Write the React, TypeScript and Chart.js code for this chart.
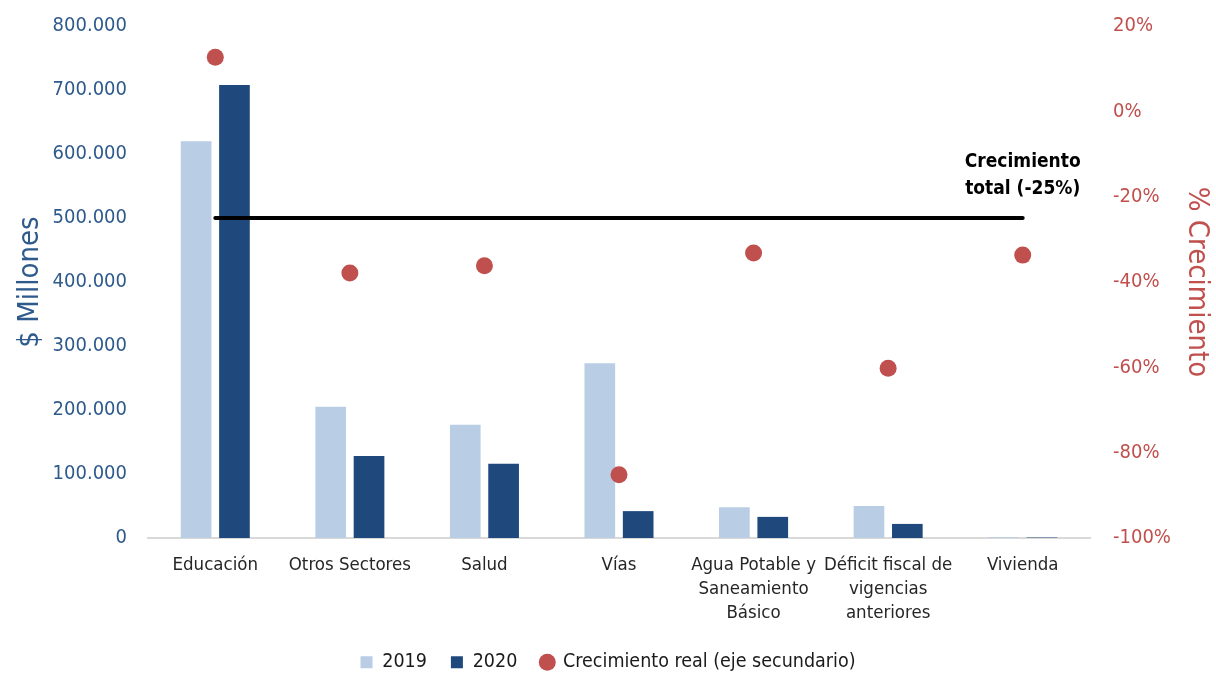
import React, { useEffect, useRef } from "react";
import { Chart, registerables } from "chart.js";

Chart.register(...registerables);

const categories: (string | string[])[] = [
  "Educación",
  "Otros Sectores",
  "Salud",
  "Vías",
  ["Agua Potable y", "Saneamiento", "Básico"],
  ["Déficit fiscal de", "vigencias", "anteriores"],
  "Vivienda",
];
const values2019 = [620000, 205000, 177000, 273000, 48000, 50000, 1200];
const values2020 = [708000, 128000, 116000, 42000, 33000, 22000, 700];
const growthReal = [12.7, -37.9, -36.2, -85.2, -33.2, -60.2, -33.7];
const totalGrowth = -25;
const totalLabel = ["Crecimiento", "total (-25%)"];

const FONT = '"Liberation Sans Narrow", "Arial Narrow", "DejaVu Sans Condensed", sans-serif';
const BLUE_TXT = "#2F5A8C";
const RED = "#C0504D";

const totalLabelPlugin = {
  id: "totalLabel",
  afterDatasetsDraw(chart: any) {
    const x = chart.scales.x.getPixelForValue(categories.length - 1);
    const y = chart.scales.y1.getPixelForValue(totalGrowth);
    const ctx = chart.ctx;
    ctx.save();
    ctx.font = `bold 19px ${FONT}`;
    ctx.fillStyle = "#000";
    ctx.textAlign = "center";
    ctx.textBaseline = "middle";
    ctx.fillText(totalLabel[0], x, y - 56);
    ctx.fillText(totalLabel[1], x, y - 29);
    ctx.restore();
  },
};

export default function App() {
  const ref = useRef<HTMLCanvasElement | null>(null);
  useEffect(() => {
    if (!ref.current) return;
    const chart = new Chart(ref.current, {
      type: "bar",
      data: {
        labels: categories as any,
        datasets: [
          {
            type: "line",
            label: "total",
            data: categories.map(() => totalGrowth),
            yAxisID: "y1",
            borderColor: "#000",
            borderWidth: 4,
            borderCapStyle: "round",
            pointRadius: 0,
            fill: false,
            order: 0,
          } as any,
          {
            type: "line",
            label: "Crecimiento real (eje secundario)",
            data: growthReal,
            yAxisID: "y1",
            showLine: false,
            pointStyle: "circle",
            pointRadius: 8.5,
            pointBackgroundColor: RED,
            pointBorderColor: RED,
            backgroundColor: RED,
            borderColor: RED,
            borderWidth: 0,
            order: -1,
          } as any,
          {
            label: "2019",
            data: values2019,
            backgroundColor: "#B9CDE5",
            borderWidth: 0,
            pointStyle: "rect",
            yAxisID: "y",
            order: 2,
            categoryPercentage: 0.57,
            barPercentage: 0.8,
          } as any,
          {
            label: "2020",
            data: values2020,
            backgroundColor: "#1F497D",
            borderWidth: 0,
            pointStyle: "rect",
            yAxisID: "y",
            order: 2,
            categoryPercentage: 0.57,
            barPercentage: 0.8,
          } as any,
        ],
      },
      options: {
        animation: false,
        responsive: false,
        maintainAspectRatio: false,
        layout: { padding: { top: 26, left: 0, right: 0, bottom: -8 } },
        plugins: {
          tooltip: { enabled: false },
          legend: {
            position: "bottom",
            labels: {
              usePointStyle: true,
              boxWidth: 12,
              boxHeight: 12,
              padding: 24,
              color: "#1a1a1a",
              font: { family: FONT, size: 19.5 },
              sort: (a: any, b: any) => {
                const ord: any = { "2019": 0, "2020": 1 };
                return (ord[a.text] ?? 2) - (ord[b.text] ?? 2);
              },
              filter: (item: any) => item.text !== "total",
            },
          },
        },
        scales: {
          x: {
            grid: { display: false, drawTicks: false },
            border: { display: true, color: "#D9D9D9", width: 2 },
            ticks: {
              color: "#262626",
              font: { family: FONT, size: 18.5, lineHeight: 1.32 },
              padding: 14.5,
              maxRotation: 0,
              autoSkip: false,
            },
            afterFit: (s: any) => {
              s.height = 90.5;
            },
          },
          y: {
            position: "left",
            min: 0,
            max: 800000,
            grid: { display: false, drawTicks: false },
            border: { display: false },
            ticks: {
              stepSize: 100000,
              color: BLUE_TXT,
              padding: 21,
              font: { family: FONT, size: 20 },
              callback: (v: any) =>
                Number(v) === 0 ? "0" : Number(v).toLocaleString("de-DE"),
            },
            title: {
              display: true,
              text: "$ Millones",
              color: BLUE_TXT,
              font: { family: FONT, size: 29 },
              padding: { top: 13, bottom: 0 },
            },
            afterFit: (s: any) => {
              s.width = 148;
              s.paddingTop = 0;
              s.paddingBottom = 0;
            },
          },
          y1: {
            position: "right",
            min: -100,
            max: 20,
            grid: { display: false, drawTicks: false },
            border: { display: false },
            ticks: {
              stepSize: 20,
              color: RED,
              padding: 23,
              font: { family: FONT, size: 20 },
              callback: (v: any) => `${v}%`,
            },
            title: {
              display: true,
              text: "% Crecimiento",
              color: RED,
              font: { family: FONT, size: 29 },
              padding: { top: 2, bottom: 0 },
            },
            afterFit: (s: any) => {
              s.width = 126;
              s.paddingTop = 0;
              s.paddingBottom = 0;
            },
          },
        },
      },
      plugins: [totalLabelPlugin],
    });
    return () => chart.destroy();
  }, []);
  return (
    <div style={{ position: "fixed", left: 0, top: 0, width: 1216, height: 674, background: "#fff" }}>
      <canvas ref={ref} width={1216} height={674} style={{ width: 1216, height: 674 }} />
    </div>
  );
}
